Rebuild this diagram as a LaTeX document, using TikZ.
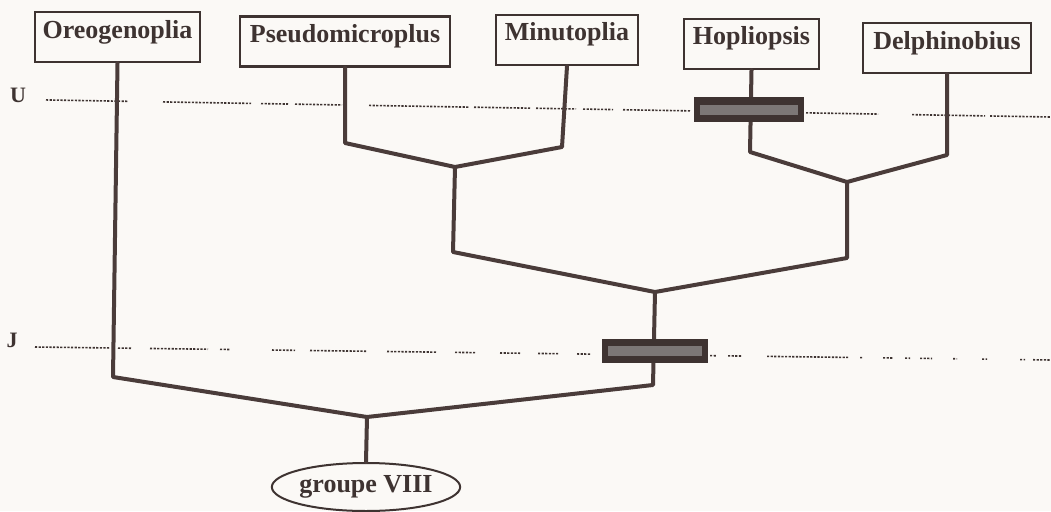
\documentclass[tikz,border=0pt]{standalone}
\usepackage{fontspec}
\setmainfont{Liberation Serif}
\usetikzlibrary{shapes.geometric}
\definecolor{ink}{HTML}{3E3331}
\definecolor{branchc}{HTML}{4A3C3A}
\definecolor{bg}{HTML}{FBF9F6}
\definecolor{streakc}{HTML}{7C7776}
\begin{document}
\begin{tikzpicture}[x=1pt,y=-1pt,
  taxon/.style={draw=ink, line width=2.4pt, text=ink, font=\fontsize{26}{30}\selectfont\bfseries,
    minimum height=50pt, inner sep=0pt, text height=13pt, text depth=11pt},
  br/.style={draw=branchc, line width=4pt, line join=round, line cap=round},
  lbl/.style={text=ink, font=\fontsize{22}{26}\selectfont\bfseries, inner sep=0pt},
  dotline/.style={draw=ink, line width=1.6pt, dash pattern=on 2.2pt off 1.4pt},
  barbox/.style={fill=ink, draw=none, inner sep=0pt},
  streak/.style={draw=streakc, line width=10pt}
]
\fill[bg] (0,0) rectangle (1051,511);
\useasboundingbox (0,0) rectangle (1051,511);

% time levels
\node[lbl, anchor=base] (U) at (18,102) {U};
\node[lbl, anchor=base] (J) at (12,347) {J};
\foreach \a/\b in {46/128,163/251,261/288,295/342,369/469,474/530,536/576,583/613,623/690,806/878,912/985,990/1051}
  \draw[dotline] (\a,{100+0.017*(\a-50)}) -- (\b,{100+0.017*(\b-50)});
\foreach \a/\b in {35/110,118/132,150/208,220/230,272/295,310/367,387/437,455/475,500/520,538/558,577/590,710/717,728/742,767/848,860/863,883/893,905/910,920/932,953/957,982/987,1020/1025,1033/1051}
  \draw[dotline] (\a,{347+0.0128*(\a-35)}) -- (\b,{347+0.0128*(\b-35)});

% taxa
\node[taxon, minimum width=165pt] (O) at (117.5,37) {Oreogenoplia};
\node[taxon, minimum width=210pt] (P) at (345,41.5) {Pseudomicroplus};
\node[taxon, minimum width=142pt] (M) at (567,40) {Minutoplia};
\node[taxon, minimum width=135pt] (H) at (751.5,44) {Hopliopsis};
\node[taxon, minimum width=168pt] (D) at (947,48) {Delphinobius};
\node[ellipse, draw=ink, line width=2pt, minimum width=167pt, minimum height=48pt, inner sep=0pt,
  text=ink, font=\fontsize{26}{30}\selectfont\bfseries] (G) at (366,487) {groupe VIII};

% junctions
\coordinate (o1) at (113,377);
\coordinate (root) at (367,417);
\coordinate (p1) at (345,143);
\coordinate (m1) at (562,147);
\coordinate (pm) at (455,167);
\coordinate (pm2) at (453,252);
\coordinate (h1) at (750,152);
\coordinate (d1) at (947,155);
\coordinate (hd) at (847,182);
\coordinate (hd2) at (847,258);
\coordinate (c) at (655,292);
\coordinate (c2) at (653,385);

% branches
\draw[br] (O.south) -- (o1) -- (root) -- (c2) -- (c);
\draw[br] (c) -- (pm2) -- (pm);
\draw[br] (c) -- (hd2) -- (hd);
\draw[br] (P.south) -- (p1) -- (pm) -- (m1) -- (M.south);
\draw[br] (H.south) -- (h1) -- (hd) -- (d1) -- (D.south);
\draw[br] (root) -- (G.north);

% bars
\node[barbox, minimum width=110pt, minimum height=25pt] (ubar) at (749,109.5) {};
\draw[streak] ([xshift=6pt]ubar.west) -- ([xshift=-6pt]ubar.east);
\node[barbox, minimum width=106pt, minimum height=24pt] (jbar) at (655,351) {};
\draw[streak] ([xshift=6pt]jbar.west) -- ([xshift=-6pt]jbar.east);
\end{tikzpicture}
\end{document}
